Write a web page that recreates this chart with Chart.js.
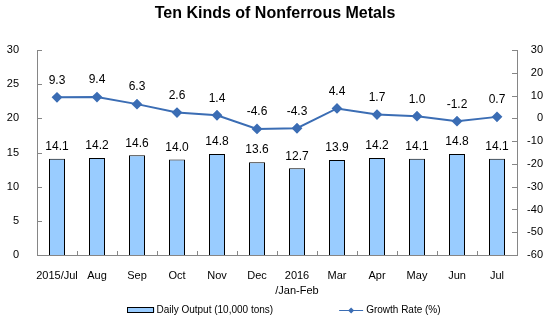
<!DOCTYPE html>
<html>
<head>
<meta charset="utf-8">
<script src="https://cdn.jsdelivr.net/npm/chart.js@4.4.1/dist/chart.umd.min.js"></script>
<style>
  body { margin: 0; background: #fff; }
  #wrap { width: 558px; height: 325px; }
</style>
</head>
<body>
<div id="wrap"><canvas id="metalsChart" width="558" height="325"></canvas></div>
<script>
// datos
const months = ['2015/Jul', 'Aug', 'Sep', 'Oct', 'Nov', 'Dec', ['2016', '/Jan-Feb'], 'Mar', 'Apr', 'May', 'Jun', 'Jul'];
const dailyOutput = [14.1, 14.2, 14.6, 14.0, 14.8, 13.6, 12.7, 13.9, 14.2, 14.1, 14.8, 14.1];
const growthRate = [9.3, 9.4, 6.3, 2.6, 1.4, -4.6, -4.3, 4.4, 1.7, 1.0, -1.2, 0.7];
const outputLabel = 'Daily Output (10,000 tons)';
const growthLabel = 'Growth Rate (%)';

const FONT = 'Arial, "Liberation Sans", sans-serif';
const axisColor = '#868686';
const barColor = '#99CCFF';
const lineColor = '#3B6DB4';

// marcas de los ejes hacia adentro
const inwardTicks = {
    id: 'inwardTicks',
    afterDraw(chart) {
        const ctx = chart.ctx;
        const a = chart.chartArea;
        const yl = chart.scales.y, yr = chart.scales.y1, x = chart.scales.x;
        ctx.save();
        ctx.strokeStyle = axisColor;
        ctx.lineWidth = 1;
        ctx.beginPath();
        yl.ticks.forEach(t => {
            const py = Math.round(yl.getPixelForValue(t.value)) + 0.5;
            ctx.moveTo(a.left, py);
            ctx.lineTo(a.left + 5, py);
        });
        yr.ticks.forEach(t => {
            const py = Math.round(yr.getPixelForValue(t.value)) + 0.5;
            ctx.moveTo(a.right, py);
            ctx.lineTo(a.right - 5, py);
        });
        for (let i = 1; i < months.length; i++) {
            const px = Math.round(x.getPixelForValue(i - 0.5)) + 0.5;
            ctx.moveTo(px, a.bottom);
            ctx.lineTo(px, a.bottom - 4);
        }
        ctx.stroke();
        ctx.restore();
    }
};

// etiquetas de valores
const valueLabels = {
    id: 'valueLabels',
    afterDatasetsDraw(chart) {
        const ctx = chart.ctx;
        ctx.save();
        ctx.font = '12px ' + FONT;
        ctx.fillStyle = '#000';
        ctx.textAlign = 'center';
        ctx.textBaseline = 'middle';
        chart.getDatasetMeta(0).data.forEach((el, i) => {
            ctx.fillText(dailyOutput[i].toFixed(1), el.x, el.y - 12);
        });
        chart.getDatasetMeta(1).data.forEach((el, i) => {
            ctx.fillText(growthRate[i].toFixed(1), el.x, el.y - 17);
        });
        ctx.restore();
    }
};

// leyenda dibujada a mano
const customLegend = {
    id: 'customLegend',
    afterDraw(chart) {
        const ctx = chart.ctx;
        ctx.save();
        ctx.font = '10px ' + FONT;
        ctx.textBaseline = 'middle';
        ctx.fillStyle = '#000';
        const w1 = ctx.measureText(outputLabel).width;
        const w2 = ctx.measureText(growthLabel).width;
        const total = 27 + 2 + w1 + 66 + 24 + 3 + w2;
        let x = chart.width / 2 + 5 - total / 2;
        const y = 310;
        ctx.fillStyle = barColor;
        ctx.fillRect(x, y - 2.5, 27, 5);
        ctx.strokeStyle = '#000';
        ctx.lineWidth = 1;
        ctx.strokeRect(Math.round(x) + 0.5, y - 2.5, 26, 5);
        ctx.fillStyle = '#000';
        ctx.fillText(outputLabel, x + 29, y + 0.5);
        x += 27 + 2 + w1 + 66;
        ctx.strokeStyle = lineColor;
        ctx.lineWidth = 1;
        ctx.beginPath();
        ctx.moveTo(x, y + 0.5);
        ctx.lineTo(x + 24, y + 0.5);
        ctx.stroke();
        ctx.fillStyle = lineColor;
        ctx.beginPath();
        ctx.moveTo(x + 12, y - 2.5);
        ctx.lineTo(x + 15, y + 0.5);
        ctx.lineTo(x + 12, y + 3.5);
        ctx.lineTo(x + 9, y + 0.5);
        ctx.closePath();
        ctx.fill();
        ctx.fillStyle = '#000';
        ctx.fillText(growthLabel, x + 27, y + 0.5);
        ctx.restore();
    }
};

const ctxMetals = document.getElementById('metalsChart');
new Chart(ctxMetals, {
    data: {
        labels: months,
        datasets: [{
            type: 'bar',
            label: outputLabel,
            data: dailyOutput,
            backgroundColor: barColor,
            borderColor: '#000',
            borderWidth: 1,
            barPercentage: 0.4,
            categoryPercentage: 1,
            yAxisID: 'y',
            order: 2
        }, {
            type: 'line',
            label: growthLabel,
            data: growthRate,
            borderColor: lineColor,
            backgroundColor: lineColor,
            borderWidth: 2,
            pointStyle: 'rectRot',
            pointRadius: 4,
            pointBackgroundColor: lineColor,
            pointBorderColor: lineColor,
            tension: 0,
            yAxisID: 'y1',
            order: 1
        }]
    },
    options: {
        responsive: false,
        animation: false,
        layout: { padding: { left: 7, right: 15, top: 0, bottom: 26 } },
        plugins: {
            legend: { display: false },
            tooltip: { enabled: false },
            title: {
                display: true,
                text: 'Ten Kinds of Nonferrous Metals',
                color: '#000',
                font: { family: FONT, size: 16, weight: 'bold' },
                padding: { top: 4, bottom: 27 }
            }
        },
        scales: {
            x: {
                grid: { display: false, drawTicks: false },
                border: { display: true, color: axisColor },
                afterFit: s => { s.height = 44; },
                ticks: {
                    color: '#000',
                    font: { family: FONT, size: 11, lineHeight: 1.4 },
                    padding: 13,
                    maxRotation: 0,
                    autoSkip: false
                }
            },
            y: {
                position: 'left',
                min: 0,
                max: 30,
                grid: { display: false, drawTicks: false },
                border: { display: true, color: axisColor },
                afterFit: s => { s.width = 30; },
                ticks: {
                    stepSize: 5,
                    color: '#000',
                    font: { family: FONT, size: 11 },
                    padding: 18
                }
            },
            y1: {
                position: 'right',
                min: -60,
                max: 30,
                grid: { display: false, drawTicks: false },
                border: { display: true, color: axisColor },
                afterFit: s => { s.width = 26; },
                ticks: {
                    stepSize: 10,
                    color: '#000',
                    font: { family: FONT, size: 11 },
                    padding: 10,
                    crossAlign: 'far'
                }
            }
        }
    },
    plugins: [inwardTicks, valueLabels, customLegend]
});
</script>
</body>
</html>
